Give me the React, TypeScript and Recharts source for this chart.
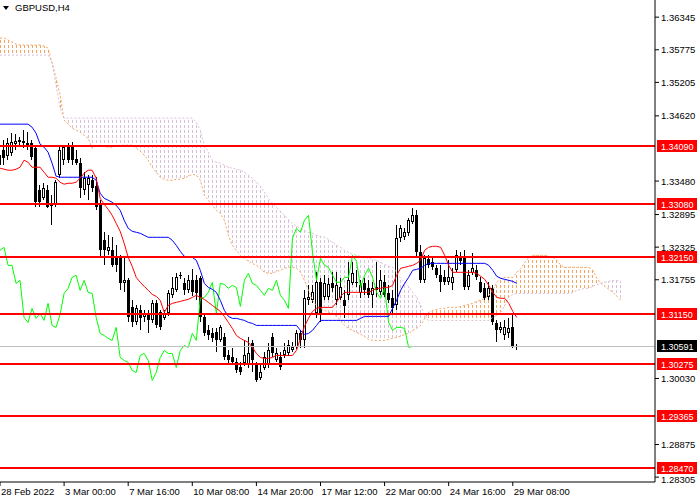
import { ComposedChart, XAxis, YAxis, Bar, Line, Area, ReferenceLine } from "recharts";

const FONT = '"Liberation Sans", Arial, sans-serif';

// GBPUSD H4 candles, oldest first
const opens = [
  1.33757, 1.34020, 1.33915, 1.33967, 1.34125, 1.34160, 1.34177, 1.34142, 1.34142, 1.34055,
  1.33320, 1.33180, 1.33320, 1.33040, 1.33057, 1.33582, 1.33845, 1.34072, 1.34107, 1.33862,
  1.33792, 1.33320, 1.33407, 1.33495, 1.33390, 1.33057, 1.32445, 1.32252, 1.32270, 1.32147,
  1.32147, 1.31692, 1.31745, 1.31272, 1.31010, 1.31220, 1.31097, 1.31167, 1.31045, 1.31342,
  1.31185, 1.31080, 1.31167, 1.31482, 1.31570, 1.31815, 1.31692, 1.31570, 1.31745, 1.31745,
  1.31780, 1.31097, 1.30870, 1.30817, 1.30835, 1.30695, 1.30747, 1.30432, 1.30397, 1.30310,
  1.30222, 1.30292, 1.30257, 1.30642, 1.30257, 1.30030, 1.30205, 1.30257, 1.30747, 1.30345,
  1.30397, 1.30432, 1.30467, 1.30520, 1.30572, 1.30817, 1.30695, 1.31395, 1.31395, 1.31167,
  1.31710, 1.31447, 1.31447, 1.31692, 1.31395, 1.31430, 1.31395, 1.31482, 1.31692, 1.31710,
  1.31517, 1.31692, 1.31605, 1.31482, 1.31622, 1.31535, 1.31710, 1.31517, 1.31430, 1.31307,
  1.32480, 1.32497, 1.32567, 1.32760, 1.32882, 1.32235, 1.31745, 1.32112, 1.32060, 1.31955,
  1.31832, 1.31797, 1.31710, 1.31692, 1.31920, 1.32147, 1.32165, 1.31622, 1.31867, 1.31920,
  1.31710, 1.31605, 1.31447, 1.31605, 1.30992, 1.30870, 1.30782, 1.30817, 1.30922, 1.30598,
];
const highs = [
  1.34142, 1.34195, 1.34230, 1.34317, 1.34300, 1.34247, 1.34370, 1.34335, 1.34195, 1.34090,
  1.33407, 1.33442, 1.33407, 1.33232, 1.33495, 1.34090, 1.34107, 1.34142, 1.34160, 1.34020,
  1.33880, 1.33635, 1.33582, 1.33582, 1.33547, 1.33145, 1.32585, 1.32532, 1.32497, 1.32357,
  1.32182, 1.32130, 1.31780, 1.31395, 1.31307, 1.31307, 1.31220, 1.31220, 1.31395, 1.31395,
  1.31220, 1.31220, 1.31570, 1.31797, 1.31867, 1.31885, 1.31780, 1.31832, 1.31937, 1.31832,
  1.31815, 1.31132, 1.30957, 1.30905, 1.30905, 1.30957, 1.30817, 1.30520, 1.30555, 1.30380,
  1.30310, 1.30695, 1.30747, 1.30695, 1.30310, 1.30257, 1.30485, 1.30642, 1.30817, 1.30555,
  1.30485, 1.30642, 1.30695, 1.30660, 1.30870, 1.30870, 1.31570, 1.31657, 1.31657, 1.31885,
  1.31780, 1.31832, 1.31780, 1.31885, 1.31885, 1.31780, 1.31570, 1.32060, 1.32060, 1.31920,
  1.31745, 1.31780, 1.31745, 1.31710, 1.32060, 1.31920, 1.31832, 1.31657, 1.31570, 1.32707,
  1.32707, 1.32655, 1.32830, 1.33005, 1.32970, 1.32357, 1.32182, 1.32182, 1.32130, 1.32007,
  1.32007, 1.31920, 1.32095, 1.31955, 1.32270, 1.32235, 1.32270, 1.31920, 1.32217, 1.32007,
  1.31797, 1.31692, 1.31710, 1.31657, 1.31045, 1.31010, 1.31045, 1.31080, 1.31132, 1.30630,
];
const lows = [
  1.33530, 1.33757, 1.33845, 1.33915, 1.34020, 1.34090, 1.34055, 1.34020, 1.33845, 1.33022,
  1.33022, 1.33145, 1.33005, 1.32707, 1.33022, 1.33530, 1.33757, 1.33792, 1.33757, 1.33757,
  1.33180, 1.33232, 1.33145, 1.33285, 1.32970, 1.32147, 1.32007, 1.32182, 1.31972, 1.31885,
  1.31570, 1.31535, 1.31010, 1.30922, 1.30957, 1.30870, 1.31010, 1.30817, 1.30992, 1.30905,
  1.30870, 1.31045, 1.31115, 1.31430, 1.31535, 1.31762, 1.31482, 1.31517, 1.31465, 1.31395,
  1.31010, 1.30765, 1.30695, 1.30660, 1.30485, 1.30660, 1.30345, 1.30257, 1.30257, 1.30117,
  1.30082, 1.30240, 1.30205, 1.30135, 1.29960, 1.29995, 1.30170, 1.30205, 1.30397, 1.30310,
  1.30170, 1.30380, 1.30415, 1.30485, 1.30537, 1.30555, 1.30555, 1.31307, 1.31342, 1.31080,
  1.31010, 1.31395, 1.31395, 1.31535, 1.31307, 1.31395, 1.31080, 1.31395, 1.31657, 1.31622,
  1.31430, 1.31482, 1.31430, 1.31255, 1.31447, 1.31482, 1.31447, 1.31342, 1.31132, 1.31220,
  1.32410, 1.32445, 1.32515, 1.32725, 1.32165, 1.31692, 1.31692, 1.31955, 1.31920, 1.31780,
  1.31535, 1.31657, 1.31657, 1.31570, 1.31885, 1.32007, 1.31570, 1.31570, 1.31832, 1.31745,
  1.31517, 1.31395, 1.31395, 1.30957, 1.30660, 1.30817, 1.30695, 1.30730, 1.30555, 1.30520,
];
const closes = [
  1.33932, 1.33880, 1.34142, 1.34160, 1.34177, 1.34195, 1.34142, 1.34107, 1.33897, 1.33110,
  1.33110, 1.33355, 1.33022, 1.33075, 1.33460, 1.34020, 1.34072, 1.33845, 1.33845, 1.33792,
  1.33355, 1.33530, 1.33530, 1.33355, 1.33022, 1.32270, 1.32270, 1.32322, 1.32007, 1.32007,
  1.31692, 1.31745, 1.31097, 1.31010, 1.31255, 1.31080, 1.31167, 1.31045, 1.31342, 1.30957,
  1.30922, 1.31150, 1.31517, 1.31605, 1.31797, 1.31832, 1.31570, 1.31745, 1.31535, 1.31517,
  1.31097, 1.30817, 1.30782, 1.30730, 1.30695, 1.30922, 1.30397, 1.30345, 1.30310, 1.30170,
  1.30135, 1.30432, 1.30467, 1.30345, 1.29995, 1.30135, 1.30397, 1.30520, 1.30467, 1.30467,
  1.30222, 1.30520, 1.30607, 1.30572, 1.30817, 1.30695, 1.31430, 1.31447, 1.31535, 1.31710,
  1.31167, 1.31692, 1.31675, 1.31605, 1.31657, 1.31622, 1.31290, 1.31745, 1.31867, 1.31692,
  1.31657, 1.31570, 1.31482, 1.31605, 1.31570, 1.31745, 1.31482, 1.31395, 1.31255, 1.32480,
  1.32655, 1.32585, 1.32795, 1.32882, 1.32235, 1.31745, 1.32130, 1.32007, 1.31972, 1.31832,
  1.31710, 1.31710, 1.31797, 1.31797, 1.32182, 1.32077, 1.31622, 1.31832, 1.31955, 1.31797,
  1.31535, 1.31430, 1.31605, 1.31010, 1.30870, 1.30922, 1.30922, 1.30905, 1.30572, 1.30591,
];

// Ichimoku lines
const tenkan = [
  1.33705, 1.33688, 1.33670, 1.33670, 1.33688, 1.33722, 1.33845, 1.33810, 1.33722, 1.33722,
  1.33722, 1.33635, 1.33547, 1.33547, 1.33530, 1.33460, 1.33425, 1.33442, 1.33442, 1.33460,
  1.33530, 1.33617, 1.33670, 1.33670, 1.33530, 1.33180, 1.33075, 1.32987, 1.32882, 1.32742,
  1.32602, 1.32392, 1.32147, 1.31990, 1.31797, 1.31710, 1.31640, 1.31570, 1.31500, 1.31465,
  1.31395, 1.31185, 1.31307, 1.31342, 1.31360, 1.31377, 1.31395, 1.31412, 1.31447, 1.31482,
  1.31447, 1.31412, 1.31360, 1.31307, 1.31255, 1.31202, 1.31115, 1.31010, 1.30905, 1.30782,
  1.30730, 1.30695, 1.30660, 1.30572, 1.30467, 1.30397, 1.30380, 1.30380, 1.30397, 1.30432,
  1.30432, 1.30432, 1.30432, 1.30432, 1.30520, 1.30730, 1.30940, 1.31080, 1.31202, 1.31255,
  1.31272, 1.31272, 1.31272, 1.31272, 1.31360, 1.31465, 1.31535, 1.31535, 1.31535, 1.31535,
  1.31535, 1.31535, 1.31535, 1.31570, 1.31605, 1.31605, 1.31622, 1.31622, 1.31657, 1.31832,
  1.31955, 1.31972, 1.31990, 1.32007, 1.32042, 1.32095, 1.32270, 1.32322, 1.32340, 1.32340,
  1.32322, 1.32182, 1.32007, 1.31885, 1.31885, 1.31885, 1.31885, 1.31885, 1.31885, 1.31867,
  1.31815, 1.31762, 1.31657, 1.31535, 1.31447, 1.31430, 1.31430, 1.31342, 1.31202, 1.31097,
];
const kijun = [
  1.34475, 1.34475, 1.34475, 1.34475, 1.34475, 1.34475, 1.34475, 1.34475, 1.34422, 1.34317,
  1.34125, 1.34072, 1.33985, 1.33792, 1.33565, 1.33547, 1.33547, 1.33547, 1.33547, 1.33547,
  1.33547, 1.33547, 1.33547, 1.33547, 1.33495, 1.33267, 1.33180, 1.33145, 1.33110, 1.33057,
  1.32970, 1.32795, 1.32655, 1.32602, 1.32585, 1.32567, 1.32532, 1.32497, 1.32497, 1.32497,
  1.32497, 1.32497, 1.32497, 1.32445, 1.32357, 1.32252, 1.32165, 1.32147, 1.32147, 1.32095,
  1.31920, 1.31692, 1.31622, 1.31587, 1.31535, 1.31395, 1.31220, 1.31115, 1.31080, 1.31080,
  1.31062, 1.31045, 1.31010, 1.30992, 1.30957, 1.30957, 1.30957, 1.30957, 1.30957, 1.30957,
  1.30957, 1.30957, 1.30957, 1.30957, 1.30957, 1.30870, 1.30800, 1.30817, 1.30870, 1.30957,
  1.31045, 1.31045, 1.31045, 1.31045, 1.31045, 1.31045, 1.31045, 1.31045, 1.31045, 1.31045,
  1.31080, 1.31115, 1.31115, 1.31115, 1.31115, 1.31115, 1.31115, 1.31115, 1.31255, 1.31395,
  1.31570, 1.31692, 1.31797, 1.31920, 1.31937, 1.31955, 1.32007, 1.32042, 1.32042, 1.32042,
  1.32042, 1.32042, 1.32042, 1.32042, 1.32042, 1.32042, 1.32042, 1.32042, 1.32042, 1.32042,
  1.32042, 1.32042, 1.32007, 1.31920, 1.31815, 1.31780, 1.31762, 1.31745, 1.31727, 1.31692,
];
// Senkou spans, already shifted 26 bars ahead
const spanA = [
  1.35980, 1.35980, 1.35945, 1.35910, 1.35875, 1.35857, 1.35857, 1.35857, 1.35857, 1.35857,
  1.35857, 1.35840, 1.35805, 1.35542, 1.35280, 1.34982, 1.34545, 1.34475, 1.34405, 1.34370,
  1.34335, 1.34282, 1.34230, 1.34055, 1.34090, 1.34107, 1.34090, 1.34072, 1.34072, 1.34090,
  1.34107, 1.34107, 1.34107, 1.34107, 1.34055, 1.34002, 1.33932, 1.33845, 1.33722, 1.33635,
  1.33547, 1.33512, 1.33495, 1.33495, 1.33512, 1.33512, 1.33530, 1.33565, 1.33600, 1.33582,
  1.33495, 1.33232, 1.33145, 1.33057, 1.32970, 1.32917, 1.32795, 1.32532, 1.32357, 1.32270,
  1.32182, 1.32130, 1.32077, 1.32042, 1.32007, 1.31955, 1.31885, 1.31867, 1.31867, 1.31902,
  1.31920, 1.31955, 1.31972, 1.31972, 1.31955, 1.31885, 1.31745, 1.31570, 1.31395, 1.31307,
  1.31255, 1.31220, 1.31185, 1.31167, 1.31115, 1.31045, 1.30957, 1.30905, 1.30870, 1.30835,
  1.30800, 1.30765, 1.30712, 1.30695, 1.30695, 1.30695, 1.30695, 1.30712, 1.30730, 1.30747,
  1.30765, 1.30800, 1.30817, 1.30870, 1.30905, 1.30957, 1.31080, 1.31185, 1.31220, 1.31237,
  1.31255, 1.31255, 1.31272, 1.31272, 1.31272, 1.31290, 1.31307, 1.31325, 1.31342, 1.31377,
  1.31395, 1.31430, 1.31482, 1.31570, 1.31710, 1.31780, 1.31797, 1.31797, 1.31797, 1.31885,
  1.31955, 1.32060, 1.32147, 1.32182, 1.32182, 1.32182, 1.32182, 1.32165, 1.32147, 1.32095,
  1.32007, 1.31972, 1.31972, 1.31972, 1.31972, 1.31972, 1.31972, 1.31972, 1.31920, 1.31780,
  1.31692, 1.31640, 1.31587, 1.31535, 1.31465, 1.31395,
];
const spanB = [
  1.35682, 1.35682, 1.35682, 1.35682, 1.35682, 1.35682, 1.35682, 1.35682, 1.35682, 1.35682,
  1.35682, 1.35682, 1.35682, 1.35560, 1.35157, 1.34755, 1.34580, 1.34580, 1.34580, 1.34580,
  1.34580, 1.34580, 1.34580, 1.34580, 1.34580, 1.34580, 1.34580, 1.34580, 1.34580, 1.34580,
  1.34580, 1.34580, 1.34580, 1.34580, 1.34580, 1.34580, 1.34580, 1.34580, 1.34580, 1.34580,
  1.34580, 1.34580, 1.34580, 1.34580, 1.34580, 1.34580, 1.34580, 1.34580, 1.34580, 1.34510,
  1.34370, 1.34107, 1.33985, 1.33845, 1.33810, 1.33792, 1.33757, 1.33722, 1.33705, 1.33688,
  1.33670, 1.33635, 1.33582, 1.33530, 1.33460, 1.33390, 1.33285, 1.33180, 1.33092, 1.33022,
  1.32952, 1.32882, 1.32812, 1.32742, 1.32690, 1.32655, 1.32620, 1.32585, 1.32567, 1.32532,
  1.32515, 1.32497, 1.32462, 1.32410, 1.32357, 1.32322, 1.32270, 1.32235, 1.32200, 1.32182,
  1.32165, 1.32147, 1.32130, 1.32112, 1.32095, 1.32060, 1.32025, 1.31990, 1.31972, 1.31885,
  1.31780, 1.31710, 1.31640, 1.31535, 1.31447, 1.31307, 1.31132, 1.31045, 1.31045, 1.31045,
  1.31045, 1.31045, 1.31045, 1.31045, 1.31045, 1.31045, 1.31045, 1.31045, 1.31045, 1.31045,
  1.31045, 1.31045, 1.31045, 1.31097, 1.31132, 1.31185, 1.31307, 1.31447, 1.31500, 1.31517,
  1.31517, 1.31517, 1.31517, 1.31517, 1.31517, 1.31517, 1.31517, 1.31517, 1.31517, 1.31517,
  1.31517, 1.31517, 1.31517, 1.31535, 1.31570, 1.31587, 1.31605, 1.31605, 1.31640, 1.31675,
  1.31692, 1.31710, 1.31727, 1.31745, 1.31745, 1.31727,
];

const dateLabels = [
  "28 Feb 2022", "3 Mar 00:00", "7 Mar 16:00", "10 Mar 08:00", "14 Mar 20:00",
  "17 Mar 12:00", "22 Mar 00:00", "24 Mar 16:00", "29 Mar 08:00",
];
const priceTicks = [
  1.36345, 1.35775, 1.35205, 1.3462, 1.3348, 1.32895, 1.32325, 1.31755, 1.3003, 1.28875, 1.28305,
];
const levels = [1.3409, 1.3308, 1.3215, 1.3115, 1.30275, 1.29365, 1.2847];
const lastPrice = 1.30591;

const SLOTS = 164;
const CHIKOU_SHIFT = 26;

const rows = Array.from({ length: SLOTS }, (_, i) => {
  const a = spanA[i];
  const b = spanB[i];
  const cloud = a != null && b != null;
  const top = cloud ? Math.max(a, b) : null;
  const bar = i < opens.length;
  return {
    i,
    open: bar ? opens[i] : null,
    high: bar ? highs[i] : null,
    low: bar ? lows[i] : null,
    close: bar ? closes[i] : null,
    hl: bar ? [lows[i], highs[i]] : null,
    tenkan: tenkan[i] ?? null,
    kijun: kijun[i] ?? null,
    chikou: closes[i + CHIKOU_SHIFT] ?? null,
    spanA: a ?? null,
    spanB: b ?? null,
    bull: cloud ? [b, top] : null,
    bear: cloud ? [a, top] : null,
  };
});

function Candle(props: any) {
  const { x, y, width, height, payload } = props;
  if (!payload || payload.open == null) return null;
  const { open, close, high, low } = payload;
  const top = Math.min(y, y + height);
  const h = Math.abs(height);
  const span = high - low || 1e-9;
  const py = (p: number) => Math.round(top + ((high - p) / span) * h);
  const cx = Math.floor(x + width / 2) + 0.5;
  const yo = py(open);
  const yc = py(close);
  const b0 = Math.min(yo, yc);
  const b1 = Math.max(yo, yc);
  const up = close >= open;
  return (
    <g shapeRendering="crispEdges">
      <line x1={cx} x2={cx} y1={Math.round(top)} y2={Math.round(top + h)} stroke="#000" />
      {b1 - b0 < 2 ? (
        <line x1={cx - 1.5} x2={cx + 1.5} y1={b0 + 0.5} y2={b0 + 0.5} stroke="#000" />
      ) : up ? (
        <rect x={cx - 1} y={b0 + 0.5} width={2} height={b1 - b0 - 1} fill="#fff" stroke="#000" />
      ) : (
        <rect x={cx - 1.5} y={b0} width={3} height={b1 - b0} fill="#000" />
      )}
    </g>
  );
}

function Tag({ viewBox, text, bg }: any) {
  if (!viewBox) return null;
  const x = viewBox.x + viewBox.width + 2;
  const y = Math.round(viewBox.y);
  return (
    <g>
      <rect x={x} y={y - 6} width={40} height={12} fill={bg} shapeRendering="crispEdges" />
      <text x={x + 4} y={y + 3.5} fontSize={9} fontFamily={FONT} fill="#fff">
        {text}
      </text>
    </g>
  );
}

// price labels; the bottom one sits just under the 1.28470 tag, as in MT4
function PriceTick({ x, y, payload }: any) {
  const nudge = payload.value === priceTicks[priceTicks.length - 1] ? 2 : 0;
  return (
    <text x={x} y={y + nudge} dy={3.5} fontSize={9.5} fontFamily={FONT} fill="#000">
      {payload.value.toFixed(5)}
    </text>
  );
}

function DateTick({ x, y, payload }: any) {
  return (
    <text x={x + 1} y={y} dy={6.5} fontSize={9.5} fontFamily={FONT} fill="#000">
      {dateLabels[payload.value / 16]}
    </text>
  );
}

export default function App() {
  return (
    <div style={{ position: "absolute", left: 0, top: 0, width: 700, height: 500, background: "#fff" }}>
      <ComposedChart width={700} height={500} data={rows} margin={{ top: 0, right: 0, bottom: 0, left: -2 }}>
        <defs>
          <pattern id="hatchBull" patternUnits="userSpaceOnUse" width="4" height="5">
            <rect x="0" y="0" width="1" height="3" fill="#F4A460" />
          </pattern>
          <pattern id="hatchBear" patternUnits="userSpaceOnUse" width="4" height="5">
            <rect x="0" y="0" width="1" height="3" fill="#D8BFD8" />
          </pattern>
        </defs>
        <XAxis
          dataKey="i"
          height={18}
          ticks={dateLabels.map((_, k) => k * 16)}
          interval={0}
          tick={<DateTick />}
          tickSize={4}
          tickMargin={2}
          axisLine={{ stroke: "#000" }}
          tickLine={{ stroke: "#000" }}
        />
        <YAxis
          orientation="right"
          width={45}
          type="number"
          domain={[1.2822, 1.36645]}
          allowDataOverflow
          ticks={priceTicks}
          interval={0}
          tick={<PriceTick />}
          tickSize={4}
          tickMargin={2}
          axisLine={{ stroke: "#000" }}
          tickLine={{ stroke: "#000" }}
        />
        <Area dataKey="bull" type="linear" stroke="none" fill="url(#hatchBull)" fillOpacity={1} isAnimationActive={false} activeDot={false} />
        <Area dataKey="bear" type="linear" stroke="none" fill="url(#hatchBear)" fillOpacity={1} isAnimationActive={false} activeDot={false} />
        <Line dataKey="spanA" stroke="#F4A460" strokeDasharray="2 2" dot={false} activeDot={false} isAnimationActive={false} />
        <Line dataKey="spanB" stroke="#D8BFD8" strokeDasharray="2 2" dot={false} activeDot={false} isAnimationActive={false} />
        <Bar dataKey="hl" shape={<Candle />} isAnimationActive={false} />
        <Line dataKey="chikou" stroke="#00FF00" dot={false} activeDot={false} isAnimationActive={false} />
        <Line dataKey="kijun" stroke="#0000FF" dot={false} activeDot={false} isAnimationActive={false} />
        <Line dataKey="tenkan" stroke="#FF0000" dot={false} activeDot={false} isAnimationActive={false} />
        <ReferenceLine
          y={lastPrice}
          stroke="#C0C0C0"
          shapeRendering="crispEdges"
          label={(p: any) => <Tag viewBox={p.viewBox} text={lastPrice.toFixed(5)} bg="#000" />}
        />
        {levels.map((lv) => (
          <ReferenceLine
            key={lv}
            y={lv}
            stroke="#FF0000"
            strokeWidth={2}
            shapeRendering="crispEdges"
            label={(p: any) => <Tag viewBox={p.viewBox} text={lv.toFixed(5)} bg="#FF0000" />}
          />
        ))}
      </ComposedChart>
      <div style={{ position: "absolute", left: 3, top: 2, display: "flex", alignItems: "center", fontFamily: FONT, fontSize: 9.5, color: "#000" }}>
        <svg width={8} height={6} style={{ marginRight: 4 }}>
          <polygon points="0,1 6,1 3,5" fill="#000" />
        </svg>
        <span>GBPUSD,H4</span>
      </div>
    </div>
  );
}
